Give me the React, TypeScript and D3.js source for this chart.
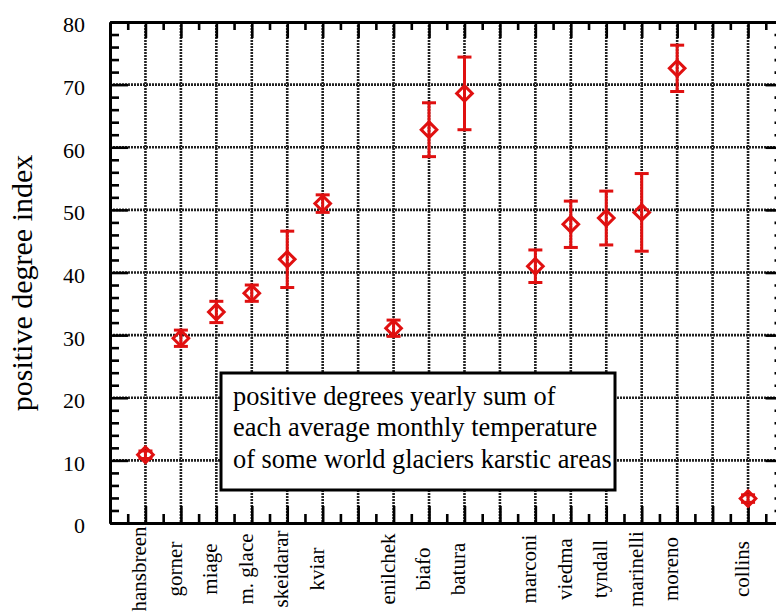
import * as d3 from "d3";
import { useEffect, useRef } from "react";

// glacier names and their slot on the x axis (gaps are intentional)
const glaciers = [
  "hansbreen", "gorner", "miage", "m. glace", "skeidarar", "kviar",
  "enilchek", "biafo", "batura",
  "marconi", "viedma", "tyndall", "marinelli", "moreno", "collins",
];
const slots = [1, 2, 3, 4, 5, 6, 8, 9, 10, 12, 13, 14, 15, 16, 18];
const pdiValues = [10.9, 29.5, 33.7, 36.7, 42.1, 51.0, 31.1, 62.8, 68.6, 41.0, 47.7, 48.7, 49.6, 72.6, 3.9];
const pdiErrors = [0.6, 1.3, 1.7, 1.3, 4.5, 1.4, 1.3, 4.3, 5.8, 2.6, 3.7, 4.3, 6.2, 3.7, 0.6];
const yTicks = [0, 10, 20, 30, 40, 50, 60, 70, 80];
const legendLines = [
  "positive degrees yearly sum of",
  "each average monthly temperature",
  "of some world glaciers karstic areas",
];

const FONT = "Liberation Serif, DejaVu Serif, Times New Roman, serif";
const RED = "#e01010";

const App = () => {
  const ref = useRef(null);

  useEffect(() => {
    const svg = d3.select(ref.current);
    svg.selectAll("*").remove();

    const x = d3.scaleLinear().domain([0, 19]).range([110, 783.5]);
    const y = d3.scaleLinear().domain([0, 80]).range([523, 22]);

    svg.append("rect").attr("width", 776).attr("height", 612).attr("fill", "#fff");

    // dotted grid
    const grid = svg
      .append("g")
      .attr("stroke", "#222")
      .attr("stroke-width", 2.6)
      .attr("stroke-dasharray", "2,1");
    grid
      .selectAll("line.v")
      .data(d3.range(1, 19))
      .join("line")
      .attr("x1", (d) => x(d))
      .attr("x2", (d) => x(d))
      .attr("y1", y(80))
      .attr("y2", y(0));
    grid
      .selectAll("line.h")
      .data(d3.range(10, 80, 10))
      .join("line")
      .attr("x1", x(0))
      .attr("x2", x(19))
      .attr("y1", (d) => y(d))
      .attr("y2", (d) => y(d));

    // legend box (covers the grid)
    const lg = svg.append("g");
    lg.append("rect")
      .attr("x", 221)
      .attr("y", 373)
      .attr("width", 394)
      .attr("height", 117)
      .attr("fill", "#fff")
      .attr("stroke", "#000")
      .attr("stroke-width", 3);
    lg.selectAll("text")
      .data(legendLines)
      .join("text")
      .attr("x", 233)
      .attr("y", (d, i) => 405 + i * 31.3)
      .attr("font-family", FONT)
      .attr("font-size", 26.4)
      .attr("fill", "#000")
      .text((d) => d);

    // axes: major + minor ticks on all four sides, pointing inward
    const styleAxis = (g) => {
      g.select(".domain").attr("stroke", "#000").attr("stroke-width", 3);
      g.selectAll(".tick line").attr("stroke", "#000").attr("stroke-width", 2.6);
    };
    const xMajor = d3.range(1, 19);
    const xMinor = d3.range(0.5, 19, 1);
    const yMinor = d3.range(2, 80, 2).filter((d) => d % 10 !== 0);

    svg.append("g")
      .attr("transform", `translate(0,${y(0)})`)
      .call(d3.axisBottom(x).tickValues(xMinor).tickSize(-9).tickSizeOuter(0).tickFormat(() => ""))
      .call(styleAxis);
    svg.append("g")
      .attr("transform", `translate(0,${y(0)})`)
      .call(d3.axisBottom(x).tickValues(xMajor).tickSize(-17).tickSizeOuter(0).tickFormat(() => ""))
      .call(styleAxis);
    svg.append("g")
      .attr("transform", `translate(0,${y(80)})`)
      .call(d3.axisTop(x).tickValues(xMinor).tickSize(-8).tickSizeOuter(0).tickFormat(() => ""))
      .call(styleAxis);
    svg.append("g")
      .attr("transform", `translate(0,${y(80)})`)
      .call(d3.axisTop(x).tickValues(xMajor).tickSize(-16).tickSizeOuter(0).tickFormat(() => ""))
      .call(styleAxis);

    svg.append("g")
      .attr("transform", `translate(${x(0)},0)`)
      .call(d3.axisLeft(y).tickValues(yMinor).tickSize(-9).tickSizeOuter(0).tickFormat(() => ""))
      .call(styleAxis);
    const left = svg.append("g")
      .attr("transform", `translate(${x(0)},0)`)
      .call(d3.axisLeft(y).tickValues(yTicks).tickSize(-18).tickSizeOuter(0).tickPadding(25))
      .call(styleAxis);
    left.attr("font-family", FONT).attr("font-size", 22);
    left.selectAll(".tick text").attr("dy", "0.45em").attr("fill", "#000");
    svg.append("g")
      .attr("transform", `translate(${x(19)},0)`)
      .call(d3.axisRight(y).tickValues(yMinor).tickSize(-9).tickSizeOuter(0).tickFormat(() => ""))
      .call(styleAxis);
    svg.append("g")
      .attr("transform", `translate(${x(19)},0)`)
      .call(d3.axisRight(y).tickValues(yTicks).tickSize(-18).tickSizeOuter(0).tickFormat(() => ""))
      .call(styleAxis);

    // glacier names, rotated
    svg.append("g")
      .selectAll("text")
      .data(glaciers)
      .join("text")
      .attr("transform", (d, i) => `translate(${x(slots[i]) + 1},569) rotate(-90)`)
      .attr("text-anchor", "middle")
      .attr("font-family", FONT)
      .attr("font-size", 21)
      .attr("fill", "#000")
      .text((d) => d);

    // y title
    svg.append("text")
      .attr("transform", "translate(32,283) rotate(-90)")
      .attr("text-anchor", "middle")
      .attr("font-family", FONT)
      .attr("font-size", 30)
      .attr("fill", "#000")
      .text("positive degree index");

    // error bars + diamonds
    const pts = svg.append("g").attr("stroke", RED).attr("stroke-width", 3).attr("fill", "none");
    const idx = d3.range(glaciers.length);
    pts.selectAll("line.err")
      .data(idx)
      .join("line")
      .attr("x1", (i) => x(slots[i]))
      .attr("x2", (i) => x(slots[i]))
      .attr("y1", (i) => y(pdiValues[i] - pdiErrors[i]))
      .attr("y2", (i) => y(pdiValues[i] + pdiErrors[i]));
    [-1, 1].forEach((s) => {
      pts.selectAll(`line.cap${s}`)
        .data(idx)
        .join("line")
        .attr("x1", (i) => x(slots[i]) - 7)
        .attr("x2", (i) => x(slots[i]) + 7)
        .attr("y1", (i) => y(pdiValues[i] + s * pdiErrors[i]))
        .attr("y2", (i) => y(pdiValues[i] + s * pdiErrors[i]));
    });
    const dm = 7.8;
    pts.selectAll("path.dia")
      .data(idx)
      .join("path")
      .attr("d", (i) => {
        const cx = x(slots[i]);
        const cy = y(pdiValues[i]);
        return `M${cx},${cy - dm}L${cx + dm},${cy}L${cx},${cy + dm}L${cx - dm},${cy}Z`;
      });
  }, []);

  return (
    <svg
      ref={ref}
      width={776}
      height={612}
      style={{ position: "absolute", left: 0, top: 0 }}
    />
  );
};

export default App;
